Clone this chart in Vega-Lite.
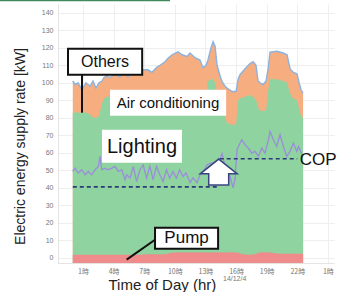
{
  "$schema": "https://vega.github.io/schema/vega-lite/v6.json",
  "autosize": {"type": "none"},
  "padding": {"left": 58, "top": 4, "right": 13, "bottom": 29},
  "width": 276,
  "height": 259,
  "background": "white",
  "config": {"view": {"stroke": null}, "font": "Liberation Sans"},
  "datasets": {
    "energy": [
      {"hour": 0, "total": 101, "ac_top": 83, "pump_top": 1.7},
      {"hour": 0.22, "total": 99, "ac_top": 83, "pump_top": 1.7},
      {"hour": 0.51, "total": 100, "ac_top": 83, "pump_top": 1.7},
      {"hour": 0.9, "total": 96, "ac_top": 83, "pump_top": 1.7},
      {"hour": 1.29, "total": 100, "ac_top": 83, "pump_top": 1.7},
      {"hour": 1.69, "total": 98, "ac_top": 82, "pump_top": 1.7},
      {"hour": 1.98, "total": 101, "ac_top": 80, "pump_top": 1.7},
      {"hour": 2.27, "total": 97, "ac_top": 80, "pump_top": 1.7},
      {"hour": 2.57, "total": 100, "ac_top": 81, "pump_top": 1.7},
      {"hour": 2.86, "total": 101, "ac_top": 88, "pump_top": 1.7},
      {"hour": 3.06, "total": 103, "ac_top": 91, "pump_top": 1.7},
      {"hour": 3.35, "total": 104, "ac_top": 92, "pump_top": 1.7},
      {"hour": 3.65, "total": 103, "ac_top": 92, "pump_top": 1.7},
      {"hour": 4.14, "total": 105, "ac_top": 92, "pump_top": 1.7},
      {"hour": 4.63, "total": 103.4, "ac_top": 91, "pump_top": 1.7},
      {"hour": 5.12, "total": 106, "ac_top": 92, "pump_top": 1.7},
      {"hour": 5.41, "total": 103.4, "ac_top": 91, "pump_top": 1.7},
      {"hour": 5.8, "total": 108.6, "ac_top": 92, "pump_top": 1.7},
      {"hour": 6.1, "total": 106, "ac_top": 91, "pump_top": 1.7},
      {"hour": 6.59, "total": 105.7, "ac_top": 92, "pump_top": 1.7},
      {"hour": 6.88, "total": 107.4, "ac_top": 91, "pump_top": 1.8},
      {"hour": 7.37, "total": 107.4, "ac_top": 92, "pump_top": 2.0},
      {"hour": 7.76, "total": 106, "ac_top": 91, "pump_top": 2.0},
      {"hour": 8.25, "total": 109, "ac_top": 92, "pump_top": 2.0},
      {"hour": 8.55, "total": 110, "ac_top": 91, "pump_top": 2.0},
      {"hour": 9.04, "total": 112, "ac_top": 92, "pump_top": 2.0},
      {"hour": 9.33, "total": 114, "ac_top": 91, "pump_top": 2.5},
      {"hour": 9.73, "total": 116, "ac_top": 92, "pump_top": 3.0},
      {"hour": 10.31, "total": 117.7, "ac_top": 91, "pump_top": 3.0},
      {"hour": 10.71, "total": 116, "ac_top": 92, "pump_top": 3.2},
      {"hour": 11.2, "total": 115, "ac_top": 91, "pump_top": 3.0},
      {"hour": 11.49, "total": 117, "ac_top": 92, "pump_top": 3.1},
      {"hour": 11.98, "total": 114.3, "ac_top": 92, "pump_top": 3.0},
      {"hour": 12.47, "total": 113, "ac_top": 92, "pump_top": 3.2},
      {"hour": 12.76, "total": 108.6, "ac_top": 92, "pump_top": 3.0},
      {"hour": 13.06, "total": 110, "ac_top": 93, "pump_top": 3.1},
      {"hour": 13.25, "total": 113, "ac_top": 101, "pump_top": 3.0},
      {"hour": 13.55, "total": 120, "ac_top": 102, "pump_top": 3.2},
      {"hour": 13.75, "total": 123.5, "ac_top": 102, "pump_top": 3.0},
      {"hour": 13.94, "total": 121, "ac_top": 100, "pump_top": 3.1},
      {"hour": 14.14, "total": 110, "ac_top": 92, "pump_top": 3.0},
      {"hour": 14.43, "total": 104, "ac_top": 91, "pump_top": 3.2},
      {"hour": 14.63, "total": 100.6, "ac_top": 90, "pump_top": 3.0},
      {"hour": 14.92, "total": 98, "ac_top": 80, "pump_top": 3.1},
      {"hour": 15.12, "total": 97, "ac_top": 77, "pump_top": 3.0},
      {"hour": 15.61, "total": 95, "ac_top": 76, "pump_top": 3.2},
      {"hour": 16.0, "total": 95, "ac_top": 76, "pump_top": 3.0},
      {"hour": 16.2, "total": 102, "ac_top": 90, "pump_top": 2.8},
      {"hour": 16.39, "total": 104.6, "ac_top": 91, "pump_top": 2.5},
      {"hour": 16.88, "total": 108, "ac_top": 92, "pump_top": 1.9},
      {"hour": 17.37, "total": 111, "ac_top": 93, "pump_top": 1.7},
      {"hour": 17.67, "total": 112, "ac_top": 92, "pump_top": 1.8},
      {"hour": 17.96, "total": 110, "ac_top": 90, "pump_top": 2.2},
      {"hour": 18.16, "total": 101, "ac_top": 86, "pump_top": 2.8},
      {"hour": 18.35, "total": 100, "ac_top": 84, "pump_top": 3.0},
      {"hour": 18.65, "total": 99, "ac_top": 84, "pump_top": 3.1},
      {"hour": 18.94, "total": 101, "ac_top": 84, "pump_top": 3.0},
      {"hour": 19.14, "total": 108, "ac_top": 95, "pump_top": 3.1},
      {"hour": 19.33, "total": 117.5, "ac_top": 102, "pump_top": 3.0},
      {"hour": 20.02, "total": 118, "ac_top": 102, "pump_top": 2.4},
      {"hour": 20.61, "total": 117, "ac_top": 101, "pump_top": 2.3},
      {"hour": 21.0, "total": 116, "ac_top": 100, "pump_top": 2.3},
      {"hour": 21.29, "total": 108, "ac_top": 94, "pump_top": 2.3},
      {"hour": 21.59, "total": 106, "ac_top": 91, "pump_top": 2.3},
      {"hour": 21.98, "total": 105, "ac_top": 90, "pump_top": 2.3},
      {"hour": 22.18, "total": 100, "ac_top": 85, "pump_top": 2.3},
      {"hour": 22.37, "total": 96, "ac_top": 81, "pump_top": 2.3},
      {"hour": 22.57, "total": 94, "ac_top": 80, "pump_top": 2.3}
    ],
    "cop": [
      {"hour": 0, "cop": 49.3}, {"hour": 0.22, "cop": 51.2}, {"hour": 0.54, "cop": 48.4},
      {"hour": 0.87, "cop": 50.3}, {"hour": 1.2, "cop": 47.4}, {"hour": 1.52, "cop": 49.3},
      {"hour": 1.85, "cop": 47.4}, {"hour": 2.18, "cop": 50.3}, {"hour": 2.5, "cop": 52.2},
      {"hour": 2.67, "cop": 57.9}, {"hour": 2.83, "cop": 50.3}, {"hour": 3.16, "cop": 51.2},
      {"hour": 3.48, "cop": 50.3}, {"hour": 3.81, "cop": 51.2}, {"hour": 4.14, "cop": 52.2},
      {"hour": 4.46, "cop": 49.3}, {"hour": 4.79, "cop": 50.3}, {"hour": 5.12, "cop": 44.6},
      {"hour": 5.28, "cop": 47.4}, {"hour": 5.61, "cop": 45.5}, {"hour": 5.93, "cop": 52.2},
      {"hour": 6.25, "cop": 43.6}, {"hour": 6.58, "cop": 50.3}, {"hour": 6.9, "cop": 53.1},
      {"hour": 7.23, "cop": 45.5}, {"hour": 7.55, "cop": 52.2}, {"hour": 7.87, "cop": 44.6},
      {"hour": 8.2, "cop": 52.2}, {"hour": 8.53, "cop": 47.4}, {"hour": 8.85, "cop": 43.6},
      {"hour": 9.18, "cop": 50.3}, {"hour": 9.5, "cop": 45.5}, {"hour": 9.82, "cop": 49.3},
      {"hour": 10.15, "cop": 45.5}, {"hour": 10.47, "cop": 50.3}, {"hour": 10.8, "cop": 46.4},
      {"hour": 11.1, "cop": 48.4}, {"hour": 11.49, "cop": 42.9}, {"hour": 11.78, "cop": 45.7},
      {"hour": 12.18, "cop": 42.9}, {"hour": 12.47, "cop": 47.4}, {"hour": 12.76, "cop": 48.6},
      {"hour": 13.16, "cop": 53.1}, {"hour": 13.65, "cop": 54.3}, {"hour": 14.14, "cop": 52},
      {"hour": 14.63, "cop": 59.5}, {"hour": 14.92, "cop": 52}, {"hour": 15.41, "cop": 46.3},
      {"hour": 15.71, "cop": 40}, {"hour": 15.9, "cop": 45}, {"hour": 16.1, "cop": 62},
      {"hour": 16.56, "cop": 67.4}, {"hour": 16.88, "cop": 64.6}, {"hour": 17.2, "cop": 62.7},
      {"hour": 17.54, "cop": 59.8}, {"hour": 17.86, "cop": 60.8}, {"hour": 18.19, "cop": 57.9},
      {"hour": 18.52, "cop": 62.7}, {"hour": 18.84, "cop": 59.8}, {"hour": 19.17, "cop": 67.4},
      {"hour": 19.33, "cop": 72.2}, {"hour": 19.66, "cop": 67.4}, {"hour": 19.99, "cop": 63.6},
      {"hour": 20.31, "cop": 70.3}, {"hour": 20.64, "cop": 63.6}, {"hour": 20.97, "cop": 57.9},
      {"hour": 21.29, "cop": 60.8}, {"hour": 21.62, "cop": 65.5}, {"hour": 21.95, "cop": 60.8},
      {"hour": 22.11, "cop": 63.6}, {"hour": 22.27, "cop": 61.7}, {"hour": 22.47, "cop": 58.9}
    ],
    "copAvg": [
      {"start": 0, "end": 14.2, "level": 40.5},
      {"start": 14.4, "end": 22.0, "level": 56.6}
    ],
    "callouts": [
      {"h1": 0.9, "h2": 0.9, "v1": 104.6, "v2": 82.9},
      {"h1": 8.06, "h2": 5.28, "v1": 10.3, "v2": -1.1}
    ],
    "boxes": [
      {"label": "Others", "h1": -0.47, "h2": 6.8, "v1": 119.4, "v2": 104.6},
      {"label": "Air conditioning", "h1": 3.65, "h2": 15.03, "v1": 96, "v2": 81.1},
      {"label": "Lighting", "h1": 2.86, "h2": 10.7, "v1": 73.1, "v2": 54.3},
      {"label": "Pump", "h1": 8.06, "h2": 14.24, "v1": 17.1, "v2": 5.1}
    ]
  },
  "layer": [
    {
      "data": {"name": "energy"},
      "mark": {"type": "area", "color": "#f6ad80", "opacity": 1},
      "encoding": {
        "x": {"field": "hour", "type": "quantitative",
          "scale": {"domain": [-1.45, 25.6], "nice": false, "zero": false},
          "axis": {"values": [1, 4, 7, 10, 13, 16, 19, 22, 25], "tickCount": 30,
            "labelExpr": "(datum.value > 24 ? datum.value - 24 : datum.value) + '時'",
            "labelFont": "Noto Sans CJK JP", "labelFontSize": 7, "labelColor": "#777",
            "labelPadding": 4, "labelOverlap": false, "labelFlush": false,
            "ticks": false, "domainColor": "#e4e4e4",
            "gridColor": "#eeeeee", "grid": true,
            "title": "Time of Day (hr)", "titleFontSize": 15, "titleFontWeight": "normal",
            "titleColor": "#222", "titleAlign": "left", "titleX": 50, "titleY": 21,
            "titleBaseline": "middle"}},
        "y": {"field": "total", "type": "quantitative",
          "scale": {"domain": [-3, 145], "nice": false, "zero": false},
          "axis": {"values": [0, 10, 20, 30, 40, 50, 60, 70, 80, 90, 100, 110, 120, 130, 140],
            "tickCount": 30,
            "labelFontSize": 7, "labelColor": "#777", "labelPadding": 5, "ticks": false,
            "labelOverlap": false, "labelFlush": false,
            "domainColor": "#e4e4e4", "gridColor": "#eeeeee",
            "title": "Electric energy supply rate [kW]", "titleFontSize": 14,
            "titleFontWeight": "normal", "titleColor": "#222", "titleAngle": -90,
            "titleX": -38, "titleY": 142, "titleAlign": "center", "titleBaseline": "middle"}},
        "y2": {"datum": -3}
      }
    },
    {
      "data": {"name": "energy"},
      "mark": {"type": "line", "color": "#8cb2de", "strokeWidth": 1.4},
      "encoding": {
        "x": {"field": "hour", "type": "quantitative"},
        "y": {"field": "total", "type": "quantitative"}
      }
    },
    {
      "data": {"name": "energy"},
      "mark": {"type": "area", "color": "#8fd3a0", "opacity": 1},
      "encoding": {
        "x": {"field": "hour", "type": "quantitative"},
        "y": {"field": "ac_top", "type": "quantitative"},
        "y2": {"datum": -3}
      }
    },
    {
      "data": {"name": "energy"},
      "mark": {"type": "area", "color": "#ef8b8b", "opacity": 1},
      "encoding": {
        "x": {"field": "hour", "type": "quantitative"},
        "y": {"field": "pump_top", "type": "quantitative"},
        "y2": {"datum": -3}
      }
    },
    {
      "data": {"name": "cop"},
      "mark": {"type": "line", "color": "#9b8ddb", "strokeWidth": 1.3},
      "encoding": {
        "x": {"field": "hour", "type": "quantitative"},
        "y": {"field": "cop", "type": "quantitative"}
      }
    },
    {
      "data": {"name": "copAvg"},
      "mark": {"type": "rule", "color": "#2d3a7a", "strokeWidth": 1.6, "strokeDash": [4, 3]},
      "encoding": {
        "x": {"field": "start", "type": "quantitative"},
        "x2": {"field": "end"},
        "y": {"field": "level", "type": "quantitative"}
      }
    },
    {
      "data": {"values": [{"hour": 14.3, "kw": 49}]},
      "mark": {"type": "point", "filled": true, "fill": "white", "stroke": "#3a4580",
        "strokeWidth": 1.5, "opacity": 1, "size": 1369,
        "shape": "M0,-0.7L1,0.1L0.54,0.1L0.54,0.7L-0.54,0.7L-0.54,0.1L-1,0.1Z"},
      "encoding": {
        "x": {"field": "hour", "type": "quantitative"},
        "y": {"field": "kw", "type": "quantitative"}
      }
    },
    {
      "data": {"name": "callouts"},
      "mark": {"type": "rule", "color": "#111", "strokeWidth": 2},
      "encoding": {
        "x": {"field": "h1", "type": "quantitative"},
        "x2": {"field": "h2"},
        "y": {"field": "v1", "type": "quantitative"},
        "y2": {"field": "v2"}
      }
    },
    {
      "data": {"name": "boxes"},
      "transform": [{"filter": "datum.label == 'Air conditioning' || datum.label == 'Lighting'"}],
      "mark": {"type": "rect", "color": "white", "opacity": 1},
      "encoding": {
        "x": {"field": "h1", "type": "quantitative"},
        "x2": {"field": "h2"},
        "y": {"field": "v1", "type": "quantitative"},
        "y2": {"field": "v2"}
      }
    },
    {
      "data": {"name": "boxes"},
      "transform": [{"filter": "datum.label == 'Others' || datum.label == 'Pump'"}],
      "mark": {"type": "rect", "fill": "white", "stroke": "#111", "strokeWidth": 2, "opacity": 1},
      "encoding": {
        "x": {"field": "h1", "type": "quantitative"},
        "x2": {"field": "h2"},
        "y": {"field": "v1", "type": "quantitative"},
        "y2": {"field": "v2"}
      }
    },
    {
      "data": {"values": [{"label": "Others", "hour": 3.16, "kw": 112}]},
      "mark": {"type": "text", "fontSize": 16, "color": "#111", "align": "center", "baseline": "middle"},
      "encoding": {
        "x": {"field": "hour", "type": "quantitative"},
        "y": {"field": "kw", "type": "quantitative"},
        "text": {"field": "label"}
      }
    },
    {
      "data": {"values": [{"label": "Air conditioning", "hour": 9.33, "kw": 88.6}]},
      "mark": {"type": "text", "fontSize": 15, "color": "#111", "align": "center", "baseline": "middle"},
      "encoding": {
        "x": {"field": "hour", "type": "quantitative"},
        "y": {"field": "kw", "type": "quantitative"},
        "text": {"field": "label"}
      }
    },
    {
      "data": {"values": [{"label": "Lighting", "hour": 6.78, "kw": 63.4}]},
      "mark": {"type": "text", "fontSize": 20, "color": "#111", "align": "center", "baseline": "middle"},
      "encoding": {
        "x": {"field": "hour", "type": "quantitative"},
        "y": {"field": "kw", "type": "quantitative"},
        "text": {"field": "label"}
      }
    },
    {
      "data": {"values": [{"label": "Pump", "hour": 11.15, "kw": 11.1}]},
      "mark": {"type": "text", "fontSize": 17, "color": "#111", "align": "center", "baseline": "middle"},
      "encoding": {
        "x": {"field": "hour", "type": "quantitative"},
        "y": {"field": "kw", "type": "quantitative"},
        "text": {"field": "label"}
      }
    },
    {
      "data": {"values": [{"label": "COP", "hour": 24.05, "kw": 56}]},
      "mark": {"type": "text", "fontSize": 17, "color": "#111", "align": "center", "baseline": "middle"},
      "encoding": {
        "x": {"field": "hour", "type": "quantitative"},
        "y": {"field": "kw", "type": "quantitative"},
        "text": {"field": "label"}
      }
    },
    {
      "data": {"values": [{"label": "14/12/4", "hour": 14.72, "kw": -12}]},
      "mark": {"type": "text", "fontSize": 7, "color": "#777", "align": "left", "baseline": "middle"},
      "encoding": {
        "x": {"field": "hour", "type": "quantitative"},
        "y": {"field": "kw", "type": "quantitative"},
        "text": {"field": "label"}
      }
    },
    {
      "data": {"values": [{"h1": -7.14, "h2": 9.53, "kw": 147.1}]},
      "mark": {"type": "rule", "color": "#3f8a5c", "strokeWidth": 2},
      "encoding": {
        "x": {"field": "h1", "type": "quantitative"},
        "x2": {"field": "h2"},
        "y": {"field": "kw", "type": "quantitative"}
      }
    }
  ]
}
